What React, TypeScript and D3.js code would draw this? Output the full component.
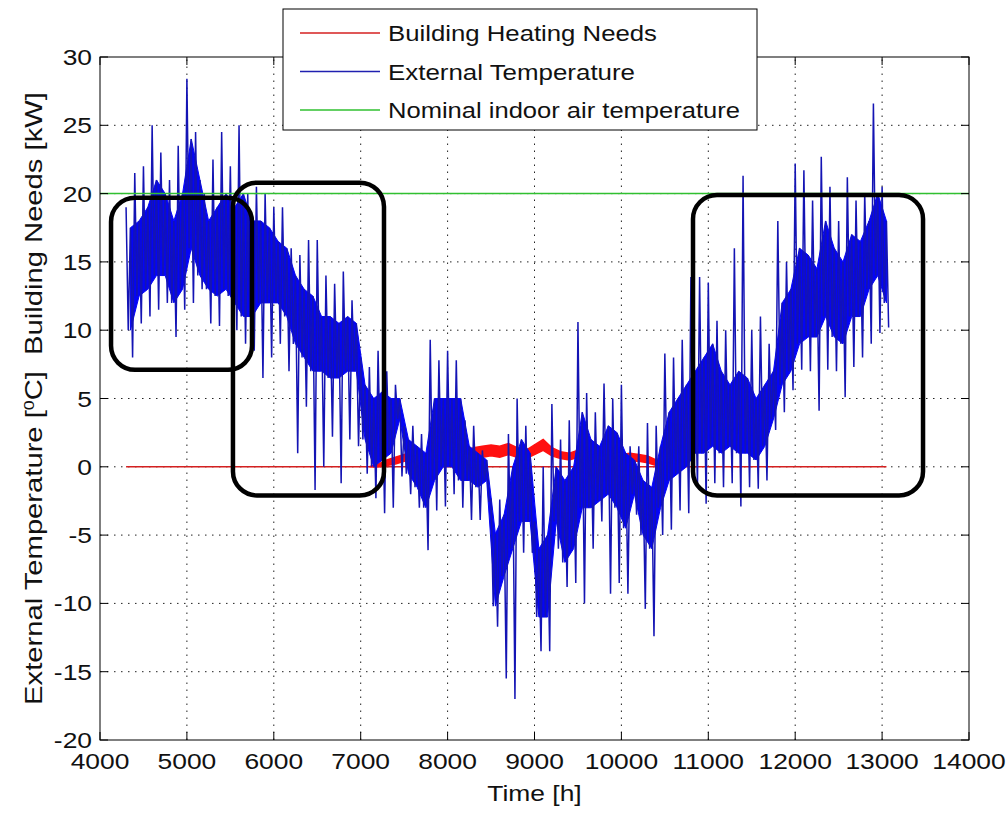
import React from 'react';
import * as d3 from 'd3';

// axis ticks
const xTicks = [4000, 5000, 6000, 7000, 8000, 9000, 10000, 11000, 12000, 13000, 14000];
const yTicks = [-20, -15, -10, -5, 0, 5, 10, 15, 20, 25, 30];

// external temperature, read per 100 h bin (start hour of each bin)
const binHours = d3.range(4300, 13100, 100);
const tempHi = [19, 21.5, 22, 25, 23, 21, 23.5, 28.4, 24.5, 20, 22.5, 24.5, 22, 25, 20, 20.5, 20, 19, 19, 16, 15.5, 16.6, 16.6, 14, 13.4, 14.3, 12.2, 8, 7.3, 8.5, 7, 6, 3, 3, 2.4, 9.3, 7.8, 8.5, 7.8, 3.4, 3, 1.2, -2.4, -2.4, 2.4, 5, 3, -4, 0, 4.6, 2, 3.4, 10.6, 5.4, 4, 6.1, 5, 6, 1.5, 1.5, 3.2, 3, 8.3, 8, 9.3, 13.9, 13.9, 13.5, 10.7, 10, 16, 21.3, 10, 11, 9, 18, 15, 22.2, 21.7, 19.5, 22.7, 20.5, 18, 21.2, 19.5, 20, 26.6, 20.5];
const tempLo = [8, 10.5, 11, 11.5, 12, 9.5, 11.5, 12, 13, 10.5, 10.3, 12.5, 10, 9, 8.5, 6.5, 8, 9, 7, 1, 4.4, -1.7, 0, 2.2, -1.2, 2, 1.5, -0.5, -2.3, -3.4, -3, -0.7, -2, -3, -6.1, -3.2, -2.9, -2, -3, -3.9, -3.9, -2.5, -11.7, -15.5, -17, -6.3, -6.3, -13.5, -13.5, -6, -8.8, -8.5, -10, -6, -4, -9.3, -8.5, -9.3, -3.5, -10.4, -12.4, -5, -4.6, -3.2, -3.4, -1.5, -2.7, -1.2, -1.5, -1.2, -2.9, -1.5, -1.6, -1, 2.7, 4, 5.6, 7.1, 7, 4.1, 7.1, 7, 5.1, 7.3, 8, 9, 9.8, 10.2];
const coreHi = [17.5, 18, 19, 21, 20, 18, 20, 24, 21, 18, 19, 20, 19, 20, 18, 18, 17.5, 16.5, 16, 14, 13, 12.5, 11, 11, 10.5, 11, 10.5, 6, 5, 5.5, 5, 5, 2, 1.5, 1, 5, 5, 5, 5, 1.5, 1, 0.5, -4.9, -3.5, 0, 2, 1, -6, -5, 0, -1, 0, 4, 2, 1.5, 3, 2.5, 1, 0.5, -1, -1.5, 1.5, 4, 5, 6, 7, 8, 9, 7, 6, 7, 6.5, 5, 6, 7, 12, 13, 16, 15.5, 14.5, 18, 16, 15, 17, 16.5, 18, 20, 18];
const coreLo = [10, 12.5, 13, 14, 14, 12, 13, 16, 14, 13, 12.5, 13, 12, 11, 11, 12, 12, 12, 11, 9, 8, 7, 7, 6.5, 6.5, 7, 7, 2, 0, 0.5, 1, 3.5, -0.5, -1.5, -3, -1, 0, 0, -1, -1, -1.5, -1, -10.2, -8, -6, -4, -4, -11, -11, -4, -7, -6, -3, -3, -2.5, -2, -3, -4.5, -2, -5, -6, -3, -1, -0.5, 0, 1, 1, 1.5, 1, 1.5, 1, 1, 0.5, 1.5, 3.5, 6, 7, 9, 9.5, 9.5, 11, 9.5, 9, 11, 11, 13, 14, 12];

// building heating needs (kW), nonzero part
const heatSpan = [4300, 13050];
const heatHours = d3.range(7100, 10700, 100);
const heatHi = [0, 0.2, 0.5, 0.7, 0.9, 1.1, 1.0, 0.8, 0.7, 0.7, 0.9, 1.2, 1.4, 1.5, 1.6, 1.5, 1.7, 1.4, 1.2, 1.6, 2.0, 1.4, 1.1, 1.0, 1.2, 1.0, 0.9, 0.9, 1.0, 0.9, 1.0, 0.9, 0.8, 0.5, 0.2, 0];
const heatLo = [0, 0, 0.1, 0.2, 0.4, 0.5, 0.5, 0.3, 0.3, 0.3, 0.4, 0.6, 0.7, 0.7, 0.8, 0.7, 0.9, 0.7, 0.6, 0.9, 1.2, 0.8, 0.6, 0.5, 0.7, 0.5, 0.5, 0.4, 0.5, 0.4, 0.4, 0.4, 0.3, 0.1, 0, 0];

const nominalIndoor = 20;

const legendLabels = ['Building Heating Needs', 'External Temperature', 'Nominal indoor air temperature'];
const legendColors = ['#d42020', '#2020b0', '#30c030'];

// highlighted regions (hours, value)
const boxes = [
  { t0: 4127, t1: 5749, v0: 7.1, v1: 19.7 },
  { t0: 5530, t1: 7268, v0: -2.1, v1: 20.8 },
  { t0: 10824, t1: 13471, v0: -2.1, v1: 19.9 },
];

const W = 1007;
const H = 814;
const font = '"Liberation Sans", Arial, sans-serif';

const App = () => {
  const x = d3.scaleLinear().domain([4000, 14000]).range([100, 969]);
  const y = d3.scaleLinear().domain([-20, 30]).range([740, 57]);
  const [x0, x1] = x.range();
  const [y0, y1] = y.range();

  // dense trace: one spike up and one down per bin, through the core
  const pts: [number, number][] = [];
  binHours.forEach((h, i) => {
    pts.push([h, tempHi[i]]);
    pts.push([h + 25, coreLo[i]]);
    pts.push([h + 50, coreHi[i]]);
    pts.push([h + 75, tempLo[i]]);
  });
  const trace = d3.line<[number, number]>().x(d => x(d[0])).y(d => y(d[1]))(pts);
  const core = d3.area<number>()
    .x((_, i) => x(binHours[i] + 50))
    .y0((_, i) => y(coreLo[i]))
    .y1((_, i) => y(coreHi[i]))(binHours);
  const heat = d3.area<number>()
    .x(d => x(d))
    .y0((_, i) => y(heatLo[i]))
    .y1((_, i) => y(heatHi[i]))(heatHours);

  const stretch = (tx: number, ty: number) => `translate(${tx},${ty}) scale(1.2,1)`;

  return (
    <svg width={W} height={H} style={{ position: 'absolute', left: 0, top: 0, background: '#fff' }}>
      <rect x={0} y={0} width={W} height={H} fill="#fff" />

      {/* grid */}
      <g stroke="#222" strokeWidth={1} strokeDasharray="1.5,5.5">
        {xTicks.slice(1, -1).map(t => (
          <line key={'gx' + t} x1={x(t)} x2={x(t)} y1={y0} y2={y1} />
        ))}
        {yTicks.slice(1, -1).map(t => (
          <line key={'gy' + t} x1={x0} x2={x1} y1={y(t)} y2={y(t)} />
        ))}
      </g>

      {/* series */}
      <line x1={x(heatSpan[0])} x2={x(heatSpan[1])} y1={y(0)} y2={y(0)} stroke="#d42020" strokeWidth={1.5} />
      <path d={heat ?? ''} fill="#ff1010" stroke="#ff1010" strokeWidth={1.5} />
      <path d={core ?? ''} fill="#0505f5" stroke="#0505f5" strokeWidth={1} />
      <path d={trace ?? ''} fill="none" stroke="#1414b4" strokeWidth={1.5} strokeLinejoin="miter" />
      <line x1={x0} x2={x1} y1={y(nominalIndoor)} y2={y(nominalIndoor)} stroke="#30c030" strokeWidth={1.5} />

      {/* highlighted regions */}
      {boxes.map((b, i) => (
        <rect key={'b' + i} x={x(b.t0)} y={y(b.v1)} width={x(b.t1) - x(b.t0)} height={y(b.v0) - y(b.v1)}
          rx={24} ry={24} fill="none" stroke="#000" strokeWidth={4.5} />
      ))}

      {/* axes box and ticks */}
      <rect x={x0} y={y1} width={x1 - x0} height={y0 - y1} fill="none" stroke="#000" strokeWidth={1} />
      <g stroke="#000" strokeWidth={1}>
        {xTicks.map(t => (
          <g key={'tx' + t}>
            <line x1={x(t)} x2={x(t)} y1={y0} y2={y0 - 8} />
            <line x1={x(t)} x2={x(t)} y1={y1} y2={y1 + 8} />
          </g>
        ))}
        {yTicks.map(t => (
          <g key={'ty' + t}>
            <line x1={x0} x2={x0 + 8} y1={y(t)} y2={y(t)} />
            <line x1={x1} x2={x1 - 8} y1={y(t)} y2={y(t)} />
          </g>
        ))}
      </g>

      {/* tick labels */}
      <g fontFamily={font} fontSize={22} fill="#111">
        {xTicks.map(t => (
          <text key={'lx' + t} transform={stretch(x(t), y0 + 29)} textAnchor="middle">{t}</text>
        ))}
        {yTicks.map(t => (
          <text key={'ly' + t} transform={stretch(x0 - 8, y(t) + 8)} textAnchor="end">{t}</text>
        ))}
        <text transform={stretch((x0 + x1) / 2, 801)} textAnchor="middle">Time [h]</text>
        <text transform={`translate(42,${(y0 + y1) / 2}) rotate(-90) scale(1.27,1)`} textAnchor="middle"
          fontSize={23} style={{ whiteSpace: 'pre' }}>
          External Temperature [<tspan fontSize={14} dy={-8}>0</tspan><tspan dy={8}>C]  Building Needs [kW]</tspan>
        </text>
      </g>

      {/* legend */}
      <g>
        <rect x={283} y={9} width={474} height={121} fill="#fff" stroke="#000" strokeWidth={1} />
        {legendLabels.map((l, i) => {
          const ly = 33 + i * 38.5;
          return (
            <g key={l}>
              <line x1={300} x2={380} y1={ly} y2={ly} stroke={legendColors[i]} strokeWidth={1.5} />
              <text x={388} y={ly + 8} fontFamily={font} fontSize={22} fill="#111"
                textLength={[269, 247, 352][i]} lengthAdjust="spacingAndGlyphs">{l}</text>
            </g>
          );
        })}
      </g>
    </svg>
  );
};

export default App;
